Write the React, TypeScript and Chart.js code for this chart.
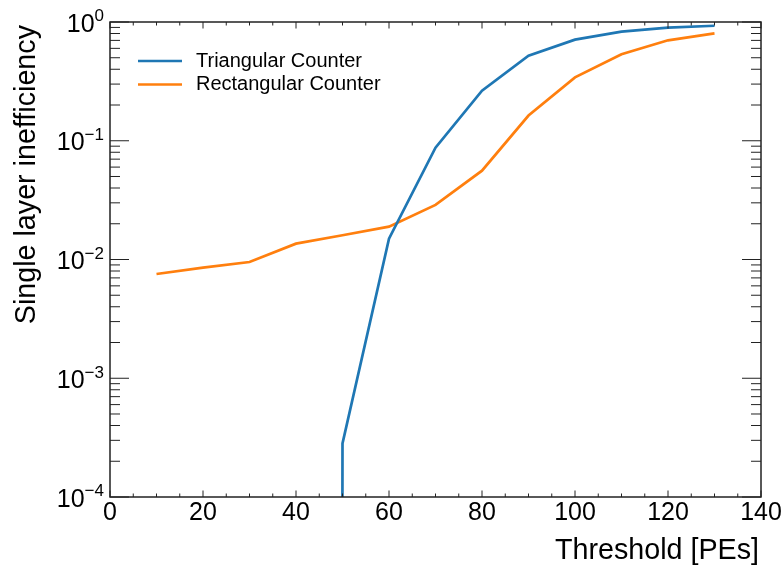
import React, { useEffect, useRef } from "react";
import { Chart, registerables } from "chart.js";

Chart.register(...registerables);

// ---- data ----
const thresholds = [10, 20, 30, 40, 50, 60, 70, 80, 90, 100, 110, 120, 130];
// 0 = no inefficiency measured (log scale cannot show it; clipped like matplotlib)
const triangular = [0, 0, 0, 0, 2.83e-4, 0.015, 0.0874, 0.264, 0.52, 0.71, 0.829, 0.895, 0.93];
const rectangular = [0.00755, 0.00853, 0.00953, 0.0136, 0.016, 0.0189, 0.0288, 0.056, 0.163, 0.342, 0.535, 0.701, 0.803];
const seriesLabels = ["Triangular Counter", "Rectangular Counter"];
const seriesColors = ["#1f77b4", "#ff7f0e"];
const xTickLabels = [0, 20, 40, 60, 80, 100, 120, 140];
const xMinorTicks = [5, 10, 15, 25, 30, 35, 45, 50, 55, 65, 70, 75, 85, 90, 95, 105, 110, 115, 125, 130, 135];
const yTickExponents = [-4, -3, -2, -1, 0];
const yMinorMantissas = [2, 3, 4, 5, 6, 7, 8, 9];
const xTitle = "Threshold [PEs]";
const yTitle = "Single layer inefficiency";

const FONT = "'Liberation Sans', Arial, Helvetica, sans-serif";

const clipNonPositive = (v: number) => (v > 0 ? v : 1e-300);

const mplAxes = {
  id: "mplAxes",
  afterDraw(chart: any) {
    const { ctx, chartArea: a, scales } = chart;
    const xs = scales.x;
    const ys = scales.y;
    ctx.save();
    ctx.strokeStyle = "#222";
    ctx.lineWidth = 1;
    const seg = (x1: number, y1: number, x2: number, y2: number) => {
      ctx.beginPath();
      ctx.moveTo(x1, y1);
      ctx.lineTo(x2, y2);
      ctx.stroke();
    };
    // x ticks (inward, bottom + top)
    const xTick = (v: number, len: number) => {
      const px = xs.getPixelForValue(v);
      seg(px, a.bottom, px, a.bottom - len);
      seg(px, a.top, px, a.top + len);
    };
    xTickLabels.forEach((v) => xTick(v, 6.5));
    xMinorTicks.forEach((v) => xTick(v, 3.5));
    // y ticks (inward, left + right)
    const yTick = (v: number, len: number) => {
      const py = ys.getPixelForValue(v);
      seg(a.left, py, a.left + len, py);
      seg(a.right, py, a.right - len, py);
    };
    yTickExponents.forEach((e) => yTick(Math.pow(10, e), 19));
    yTickExponents.slice(0, -1).forEach((e) =>
      yMinorMantissas.forEach((m) => yTick(m * Math.pow(10, e), 10))
    );
    // frame
    ctx.lineWidth = 1.5;
    ctx.strokeRect(a.left, a.top, a.right - a.left, a.bottom - a.top);

    // x tick labels
    ctx.fillStyle = "#000";
    ctx.font = `25px ${FONT}`;
    ctx.textAlign = "center";
    ctx.textBaseline = "alphabetic";
    xTickLabels.forEach((v) => {
      ctx.fillText(String(v), xs.getPixelForValue(v), a.bottom + 23);
    });
    // y tick labels 10^e
    yTickExponents.forEach((e) => {
      const py = ys.getPixelForValue(Math.pow(10, e));
      const expStr = e < 0 ? "\u2212" + String(-e) : String(e);
      const right = a.left - 6;
      ctx.textAlign = "right";
      ctx.font = `17px ${FONT}`;
      const ew = ctx.measureText(expStr).width;
      ctx.fillText(expStr, right, py - 0.7);
      ctx.font = `25px ${FONT}`;
      ctx.fillText("10", right - ew, py + 9.5);
    });

    // axis titles
    ctx.font = `28.7px ${FONT}`;
    ctx.textAlign = "right";
    ctx.fillText(xTitle, a.right - 2, a.bottom + 61.5);
    ctx.save();
    ctx.translate(35, a.top + 3);
    ctx.rotate(-Math.PI / 2);
    ctx.textAlign = "right";
    ctx.fillText(yTitle, 0, 0);
    ctx.restore();

    // legend
    ctx.font = `20px ${FONT}`;
    ctx.textAlign = "left";
    seriesLabels.forEach((label, i) => {
      const ly = a.top + 39 + i * 23.5;
      ctx.strokeStyle = seriesColors[i];
      ctx.lineWidth = 2.5;
      seg(a.left + 28, ly, a.left + 72, ly);
      ctx.fillStyle = "#000";
      ctx.fillText(label, a.left + 86, ly + 5.5);
    });
    ctx.restore();
  },
};

export default function App() {
  const ref = useRef<HTMLCanvasElement | null>(null);
  useEffect(() => {
    document.body.style.margin = "0";
    const canvas = ref.current;
    if (!canvas) return;
    const series = [triangular, rectangular];
    const chart = new Chart(canvas, {
      type: "line",
      data: {
        datasets: series.map((vals, i) => ({
          label: seriesLabels[i],
          data: thresholds.map((x, j) => ({ x, y: clipNonPositive(vals[j]) })),
          borderColor: seriesColors[i],
          backgroundColor: seriesColors[i],
          borderWidth: 2.7,
          pointRadius: 0,
          tension: 0,
          fill: false,
        })),
      },
      options: {
        animation: false,
        responsive: false,
        devicePixelRatio: 1,
        layout: { padding: { left: 110, top: 22, right: 23, bottom: 74 } },
        scales: {
          x: { type: "linear", min: 0, max: 140, display: false },
          y: { type: "logarithmic", min: 1e-4, max: 1, display: false },
        },
        plugins: { legend: { display: false }, tooltip: { enabled: false } },
      },
      plugins: [mplAxes],
    } as any);
    return () => chart.destroy();
  }, []);
  return (
    <div style={{ width: 784, height: 571, background: "#fff" }}>
      <canvas ref={ref} width={784} height={571} style={{ display: "block", width: 784, height: 571 }} />
    </div>
  );
}
